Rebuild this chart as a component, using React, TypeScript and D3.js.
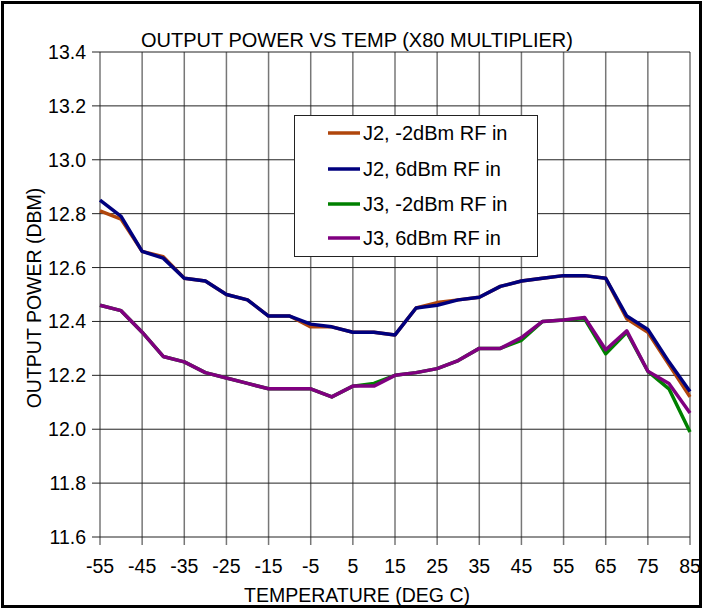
import React, { useEffect, useRef } from "react";
import * as d3 from "d3";

const temps = [-55, -50, -45, -40, -35, -30, -25, -20, -15, -10, -5, 0, 5, 10, 15, 20, 25, 30, 35, 40, 45, 50, 55, 60, 65, 70, 75, 80, 85];

const j2Low = [12.81, 12.78, 12.66, 12.64, 12.56, 12.55, 12.50, 12.48, 12.42, 12.42, 12.38, 12.38, 12.36, 12.36, 12.35, 12.45, 12.47, 12.48, 12.49, 12.53, 12.55, 12.56, 12.57, 12.57, 12.56, 12.41, 12.36, 12.24, 12.12];
const j2High = [12.85, 12.79, 12.66, 12.635, 12.56, 12.55, 12.50, 12.48, 12.42, 12.42, 12.39, 12.38, 12.36, 12.36, 12.35, 12.45, 12.46, 12.48, 12.49, 12.53, 12.55, 12.56, 12.57, 12.57, 12.56, 12.42, 12.37, 12.25, 12.14];
const j3Low = [12.46, 12.44, 12.36, 12.27, 12.25, 12.21, 12.19, 12.17, 12.15, 12.15, 12.15, 12.12, 12.16, 12.17, 12.20, 12.21, 12.225, 12.255, 12.30, 12.30, 12.33, 12.40, 12.405, 12.41, 12.28, 12.36, 12.215, 12.15, 11.99];
const j3High = [12.46, 12.44, 12.36, 12.27, 12.25, 12.21, 12.19, 12.17, 12.15, 12.15, 12.15, 12.12, 12.16, 12.16, 12.20, 12.21, 12.225, 12.255, 12.30, 12.30, 12.34, 12.40, 12.405, 12.415, 12.295, 12.365, 12.215, 12.17, 12.06];

const seriesNames = ["J2, -2dBm RF in", "J2, 6dBm RF in", "J3, -2dBm RF in", "J3, 6dBm RF in"];
const seriesColors = ["#B0460C", "#00007E", "#008000", "#800080"];

const xTicks = [-55, -45, -35, -25, -15, -5, 5, 15, 25, 35, 45, 55, 65, 75, 85];
const yTicks = [11.6, 11.8, 12.0, 12.2, 12.4, 12.6, 12.8, 13.0, 13.2, 13.4];

const font = "'Liberation Sans', Arial, sans-serif";

const App = () => {
  const ref = useRef<SVGSVGElement>(null);

  useEffect(() => {
    const width = 704;
    const height = 610;
    const svg = d3.select(ref.current);
    svg.selectAll("*").remove();
    svg.attr("width", width).attr("height", height);

    // outer frame
    svg.append("rect")
      .attr("x", 2.5).attr("y", 2.5)
      .attr("width", 698).attr("height", 604)
      .attr("fill", "#fff")
      .attr("stroke", "#000")
      .attr("stroke-width", 3);

    const x = d3.scaleLinear().domain([-55, 85]).range([100, 690]);
    const y = d3.scaleLinear().domain([11.6, 13.4]).range([537, 52]);

    // vertical grid
    svg.append("g")
      .selectAll("line")
      .data(xTicks)
      .enter()
      .append("line")
      .attr("x1", d => x(d)).attr("x2", d => x(d))
      .attr("y1", y(13.4)).attr("y2", y(11.6) + 8)
      .attr("stroke", "#777")
      .attr("stroke-width", 1.5);

    // horizontal grid
    svg.append("g")
      .selectAll("line")
      .data(yTicks)
      .enter()
      .append("line")
      .attr("x1", x(-55) - 8).attr("x2", x(85))
      .attr("y1", d => y(d)).attr("y2", d => y(d))
      .attr("stroke", "#222")
      .attr("stroke-width", 1);

    // y tick labels
    svg.append("g")
      .selectAll("text")
      .data(yTicks)
      .enter()
      .append("text")
      .attr("x", 86)
      .attr("y", d => y(d) + 7)
      .attr("text-anchor", "end")
      .attr("font-family", font)
      .attr("font-size", "19.5px")
      .text(d => d.toFixed(1));

    // x tick labels
    svg.append("g")
      .selectAll("text")
      .data(xTicks)
      .enter()
      .append("text")
      .attr("x", d => x(d))
      .attr("y", 573)
      .attr("text-anchor", "middle")
      .attr("font-family", font)
      .attr("font-size", "19.5px")
      .text(d => String(d));

    svg.append("text")
      .attr("x", 357).attr("y", 47)
      .attr("text-anchor", "middle")
      .attr("font-family", font)
      .attr("font-size", "20px")
      .text("OUTPUT POWER VS TEMP (X80 MULTIPLIER)");

    svg.append("text")
      .attr("x", 357).attr("y", 602)
      .attr("text-anchor", "middle")
      .attr("font-family", font)
      .attr("font-size", "19.5px")
      .text("TEMPERATURE (DEG C)");

    svg.append("text")
      .attr("transform", `translate(41,298) rotate(-90)`)
      .attr("text-anchor", "middle")
      .attr("font-family", font)
      .attr("font-size", "19.5px")
      .text("OUTPUT POWER (DBM)");

    const allSeries = [j2Low, j2High, j3Low, j3High];
    const line = d3.line<number>()
      .x((d, i) => x(temps[i]))
      .y(d => y(d));

    allSeries.forEach((s, i) => {
      svg.append("path")
        .attr("d", line(s))
        .attr("fill", "none")
        .attr("stroke", seriesColors[i])
        .attr("stroke-width", 3.5)
        .attr("stroke-linejoin", "round");
    });

    // legend
    const lg = svg.append("g");
    lg.append("rect")
      .attr("x", 294.5).attr("y", 115.5)
      .attr("width", 243).attr("height", 141)
      .attr("fill", "#fff")
      .attr("stroke", "#222")
      .attr("stroke-width", 1);
    const rows = [133, 169, 204, 238];
    seriesNames.forEach((name, i) => {
      lg.append("line")
        .attr("x1", 328).attr("x2", 360)
        .attr("y1", rows[i]).attr("y2", rows[i])
        .attr("stroke", seriesColors[i])
        .attr("stroke-width", 3.5);
      lg.append("text")
        .attr("x", 363).attr("y", rows[i] + 7)
        .attr("font-family", font)
        .attr("font-size", "20px")
        .text(name);
    });
  }, []);

  return <svg ref={ref} style={{ position: "absolute", left: 0, top: 0 }}></svg>;
};

export default App;
